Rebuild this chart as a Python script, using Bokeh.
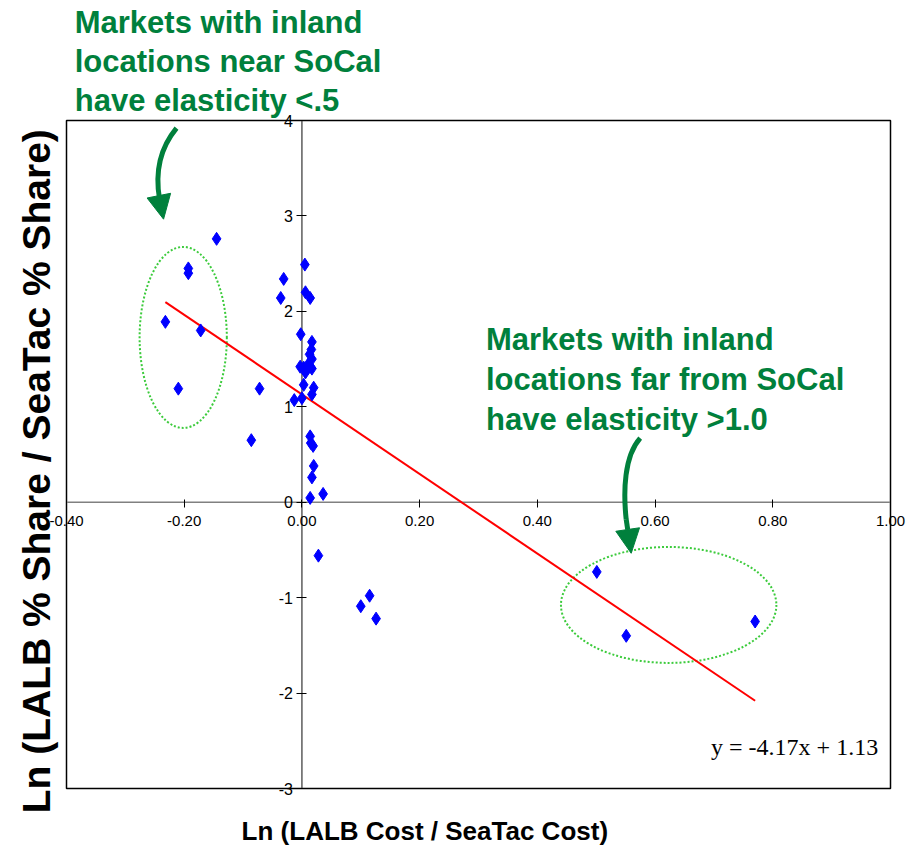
import math
from bokeh.plotting import figure
from bokeh.models import Range1d, FixedTicker, NumeralTickFormatter, Label, Arrow, NormalHead
from bokeh.embed import file_html
from bokeh.resources import INLINE

# ---------------- data ----------------
ln_cost_ratio = [-0.232, -0.210, -0.193, -0.193, -0.172, -0.145, -0.086, -0.072,
                 -0.036, -0.031, -0.013, -0.003, -0.002, 0.000, 0.003, 0.003,
                 0.005, 0.006, 0.006, 0.010, 0.013, 0.014, 0.014, 0.014, 0.015,
                 0.019, 0.014, 0.016, 0.017, 0.017, 0.017, 0.017, 0.017, 0.020,
                 0.020, 0.036, 0.028, 0.100, 0.115, 0.126, 0.501, 0.551, 0.770]
ln_share_ratio = [1.89, 1.19, 2.45, 2.40, 1.80, 2.76, 0.65, 1.19,
                  2.14, 2.34, 1.07, 1.42, 1.76, 1.09, 1.41, 1.23,
                  2.49, 2.20, 1.36, 1.44, 1.55, 2.14, 1.42, 0.69, 0.62,
                  0.59, 0.045, 1.60, 1.68, 1.50, 1.40, 1.13, 0.26, 1.20,
                  0.38, 0.087, -0.56, -1.09, -0.98, -1.22, -0.73, -1.40, -1.25]
fit_slope = -4.17
fit_intercept = 1.13

x_min, x_max = -0.40, 1.00
y_min, y_max = -3, 4
x_ticks = [-0.40, -0.20, 0.00, 0.20, 0.40, 0.60, 0.80, 1.00]
y_ticks = [-3, -2, -1, 0, 1, 2, 3, 4]

x_title = "Ln (LALB Cost / SeaTac Cost)"
y_title = "Ln (LALB % Share / SeaTac % Share)"
note_near = ["Markets with inland", "locations near SoCal", "have elasticity <.5"]
note_far = ["Markets with inland", "locations far from SoCal", "have elasticity >1.0"]
equation = "y = -4.17x + 1.13"

# ---------------- layout / styles ----------------
W, H = 906, 849
BOX_L, BOX_R, BOX_T, BOX_B = 66, 890, 120, 788   # plot box in canvas pixels
GREEN = "#00803C"
ELL_GREEN = "#3CCB3C"
FONT = "Liberation Sans"

xs_per_px = (x_max - x_min) / (BOX_R - BOX_L)
ys_per_px = (y_max - y_min) / (BOX_B - BOX_T)
x_range = Range1d(x_min - BOX_L * xs_per_px, x_max + (W - BOX_R) * xs_per_px)
y_range = Range1d(y_min - (H - BOX_B) * ys_per_px, y_max + BOX_T * ys_per_px)

p = figure(width=W, height=H, x_range=x_range, y_range=y_range,
           output_backend="svg", toolbar_location=None,
           min_border_left=0, min_border_right=0, min_border_top=0, min_border_bottom=0)
p.title.visible = False
p.background_fill_color = "white"
p.border_fill_color = "white"
p.outline_line_color = None
p.xgrid.visible = False
p.ygrid.visible = False

# plot box
p.quad(left=[x_min], right=[x_max], bottom=[y_min], top=[y_max],
       fill_color=None, line_color="black", line_width=1.5)

# axes crossing at origin
p.xaxis.fixed_location = 0
p.yaxis.fixed_location = 0
p.xaxis.ticker = FixedTicker(ticks=x_ticks)
p.yaxis.ticker = FixedTicker(ticks=y_ticks)
p.xaxis.formatter = NumeralTickFormatter(format="0.00")
p.yaxis.formatter = NumeralTickFormatter(format="0")
for ax in (p.xaxis, p.yaxis):
    ax.axis_line_color = None
    ax.minor_tick_line_color = None
    ax.major_tick_line_color = "black"
    ax.major_label_text_font = FONT
    ax.major_label_text_color = "black"
p.xaxis.major_tick_in = 3
p.xaxis.major_tick_out = 5
p.xaxis.major_label_text_font_size = "15px"
p.xaxis.major_label_standoff = 9
p.yaxis.major_tick_in = 5
p.yaxis.major_tick_out = 5
p.yaxis.major_label_text_font_size = "16px"
p.yaxis.major_label_standoff = 4

p.segment(x0=[x_min], y0=[0], x1=[x_max], y1=[0], line_color="#808080", line_width=1.5)
p.segment(x0=[0], y0=[y_min], x1=[0], y1=[y_max], line_color="#333333", line_width=1.2)

# ellipses (annotations)
p.ellipse(x=[-0.2017, 0.6231], y=[1.727, -1.0765], width=[0.1482, 0.366], height=[1.897, 1.216],
          fill_color=None, line_color=ELL_GREEN, line_width=2, line_dash="2 2")

# regression line
fit_x = [min(ln_cost_ratio), max(ln_cost_ratio)]
fit_y = [fit_slope * v + fit_intercept for v in fit_x]
p.line(fit_x, fit_y, line_color="#FF0000", line_width=2)

# points
p.scatter(ln_cost_ratio, ln_share_ratio, marker="diamond", size=13, color="#0000FF")

# curved arrows
p.bezier(x0=[-0.2131, 0.5747], y0=[3.920, 0.671], x1=[-0.2419, 0.5509], y1=[3.176, -0.178],
         cx0=[-0.2453, 0.5475], cy0=[3.679, 0.482], cx1=[-0.2487, 0.5458], cy1=[3.417, 0.115],
         line_color=GREEN, line_width=5)
for xs, ys, xe, ye in [(-0.2419, 3.176, -0.2351, 2.966), (0.5509, -0.178, 0.5594, -0.535)]:
    p.add_layout(Arrow(end=NormalHead(size=24, fill_color=GREEN, line_color=GREEN),
                       x_start=xs, y_start=ys, x_end=xe, y_end=ye,
                       line_color=GREEN, line_width=5))

# notes
for i, t in enumerate(note_near):
    p.add_layout(Label(x=-0.386, y=4.841 - i * 0.409, text=t, text_font=FONT,
                       text_font_style="bold", text_font_size="31px", text_color=GREEN))
for i, t in enumerate(note_far):
    p.add_layout(Label(x=0.3127, y=1.519 - i * 0.419, text=t, text_font=FONT,
                       text_font_style="bold", text_font_size="31px", text_color=GREEN))

p.add_layout(Label(x=0.979, y=-2.704, text=equation, text_align="right",
                   text_font="Liberation Serif", text_font_size="24px", text_color="black"))

# axis titles
p.add_layout(Label(x=0.2088, y=-3.605, text=x_title, text_align="center",
                   text_font=FONT, text_font_style="bold", text_font_size="26px", text_color="black"))
p.add_layout(Label(x=-0.4508, y=0.325, text=y_title, text_align="center", text_baseline="middle",
                   angle=math.pi / 2, text_font=FONT, text_font_style="bold",
                   text_font_size="39px", text_color="black"))

open("out.html", "w").write(file_html(p, INLINE))
